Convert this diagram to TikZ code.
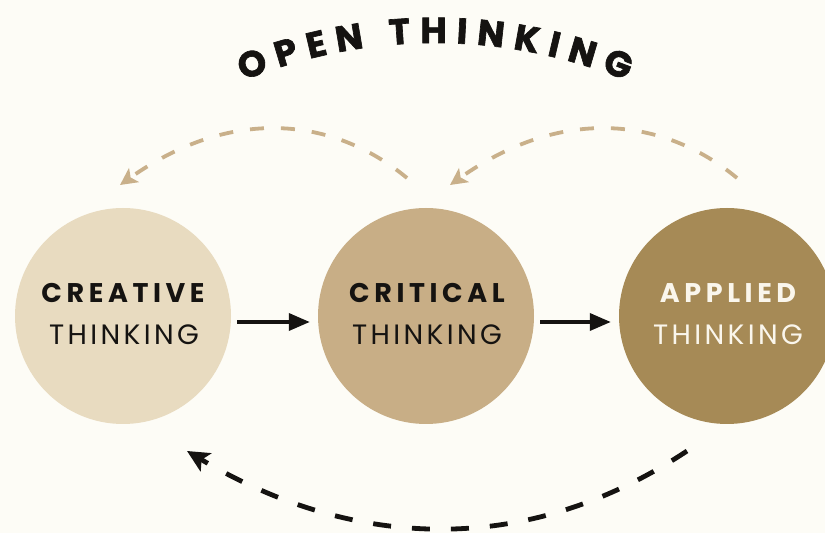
\documentclass[tikz,border=0pt]{standalone}
\usepackage{fontspec}
\setmainfont{Poppins}
\newfontfamily\boldlblfont[LetterSpace=17]{Poppins}
\newfontfamily\reglblfont[LetterSpace=12]{Poppins}
\newfontfamily\titlefont[BoldFeatures={FakeBold=1.8}]{Poppins}
\newcommand\ttlfnt{\titlefont\bfseries\fontsize{36}{36}\selectfont}
\usetikzlibrary{arrows.meta,calc}
\definecolor{bgcol}{HTML}{FDFCF6}
\definecolor{cOne}{HTML}{E8DBC0}
\definecolor{cTwo}{HTML}{C8AE86}
\definecolor{cThree}{HTML}{A68A56}
\definecolor{tanline}{HTML}{C9B08A}
\definecolor{ink}{HTML}{151311}
\definecolor{lighttext}{HTML}{FAF6EC}
% title letter angles, computed from the natural widths of the letters
\def\ttlR{506}
\def\ttlTrk{9.5}
\def\ttlGap{16}
\def\ttlList{O/0,P/0,E/0,N/0,T/1,H/0,I/0,N/0,K/0,I/0,N/0,G/0}
\begin{document}
\gdef\ttlTot{0}
\foreach \ch/\gp in \ttlList {%
  \setbox0=\hbox{\ttlfnt\ch}%
  \pgfmathsetmacro\ttlTmp{\ttlTot+\the\wd0+\ttlTrk+\gp*\ttlGap}%
  \xdef\ttlTot{\ttlTmp}%
}%
\pgfmathsetmacro\ttlHalf{(\ttlTot-\ttlTrk)/2}%
\xdef\ttlHalf{\ttlHalf}%
\gdef\ttlCum{0}%
\foreach \ch/\gp [count=\i] in \ttlList {%
  \setbox0=\hbox{\ttlfnt\ch}%
  \pgfmathsetmacro\ttlPos{\ttlCum+\gp*\ttlGap+\the\wd0/2}%
  \pgfmathsetmacro\ttlAng{90+(\ttlHalf-\ttlPos)/\ttlR*180/pi}%
  \expandafter\xdef\csname ttlA\i\endcsname{\ttlAng}%
  \pgfmathsetmacro\ttlTmp{\ttlCum+\gp*\ttlGap+\the\wd0+\ttlTrk}%
  \xdef\ttlCum{\ttlTmp}%
}%
\begin{tikzpicture}[x=1pt,y=1pt,
  circ/.style={circle, minimum size=216pt, inner sep=0pt, draw=none},
  boldlbl/.style={anchor=base, inner sep=0pt, font=\boldlblfont\bfseries\fontsize{27}{27}\selectfont},
  reglbl/.style={anchor=base, inner sep=0pt, font=\reglblfont\fontsize{28}{28}\selectfont},
  arcl/.style={anchor=base, inner sep=0pt, text=ink, font=\ttlfnt},
  flowarrow/.style={draw=ink, line width=3.6pt, -{Triangle[length=21pt,width=17pt]}, shorten <=6pt, shorten >=8pt},
  tanarrow/.style={draw=tanline, line width=3.8pt, dash pattern=on 14pt off 17pt, -{Stealth[length=17pt,width=17pt,inset=4pt]}},
  backarrow/.style={draw=ink, line width=4.8pt, dash pattern=on 18pt off 21pt, -{Stealth[length=22pt,width=21pt,inset=5pt]}}
]
\fill[bgcol] (0,0) rectangle (825,533);
\useasboundingbox (0,0) rectangle (825,533);
\clip (0,0) rectangle (825,533);

% circles
\node[circ, fill=cOne] (c1) at (123,217) {};
\node[circ, fill=cTwo] (c2) at (426,217) {};
\node[circ, fill=cThree] (c3) at (727,217) {};

% labels
\node[boldlbl, text=ink] (l1a) at (123,230) {CREATIVE};
\node[reglbl, text=ink] (l1b) at (124,188) {THINKING};
\node[boldlbl, text=ink] (l2a) at (427,230) {CRITICAL};
\node[reglbl, text=ink] (l2b) at (427,188) {THINKING};
\node[boldlbl, text=lighttext] (l3a) at (728,230) {APPLIED};
\node[reglbl, text=lighttext] (l3b) at (728,188) {THINKING};

% forward arrows
\draw[flowarrow] ([yshift=-6pt]c1.east) -- ([yshift=-6pt]c2.west);
\draw[flowarrow] ([yshift=-6pt]c2.east) -- ([yshift=-6pt]c3.west);

% upper dashed arcs
\coordinate (a1s) at (407,355);
\coordinate (a1e) at (120,348);
\coordinate (a2s) at (737,355);
\coordinate (a2e) at (450,348);
\draw[tanarrow] (a1s) .. controls (332,417) and (230,426) .. (a1e);
\draw[tanarrow] (a2s) .. controls (662,417) and (560,426) .. (a2e);

% lower dashed arc
\coordinate (bs) at (687,82);
\coordinate (be) at (187,82);
\draw[backarrow] (bs) .. controls (507,-37) and (331,-4) .. (be);

% curved title
\coordinate (arcC) at (435,-16);
\foreach \ch/\gp [count=\i] in \ttlList {
  \pgfmathsetmacro\ttlAng{\csname ttlA\i\endcsname}
  \node[arcl, rotate=\ttlAng-90] (ot\i) at ($(arcC)+(\ttlAng:\ttlR pt)$) {\ch};
}
\end{tikzpicture}
\end{document}
